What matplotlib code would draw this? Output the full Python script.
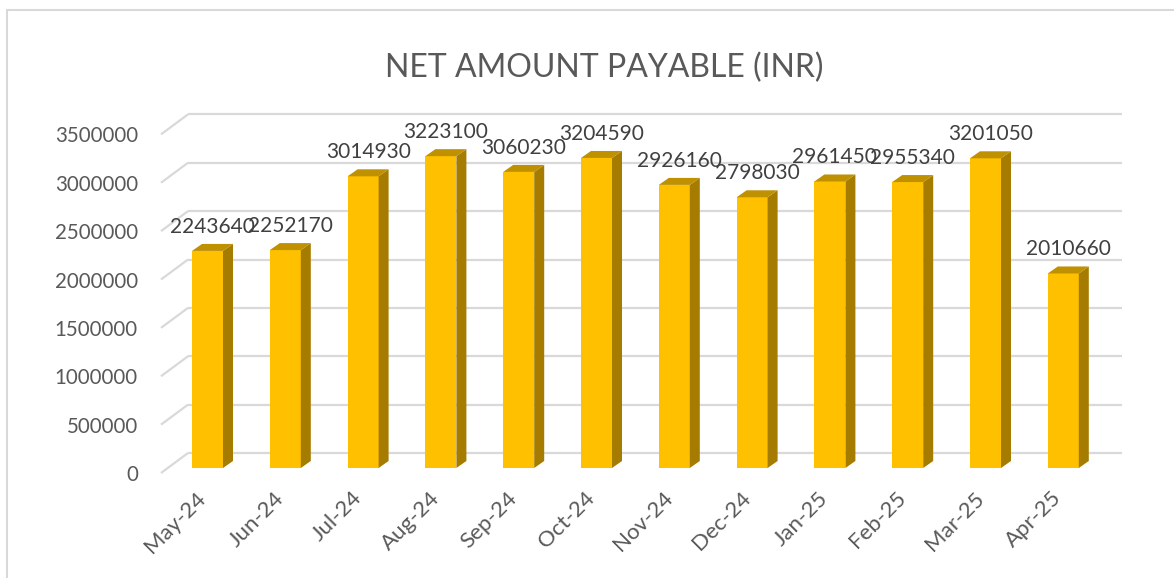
import matplotlib
matplotlib.use("Agg")
import matplotlib.pyplot as plt
from matplotlib.patches import Polygon, Rectangle

months = ["May-24", "Jun-24", "Jul-24", "Aug-24", "Sep-24", "Oct-24",
          "Nov-24", "Dec-24", "Jan-25", "Feb-25", "Mar-25", "Apr-25"]
amounts = [2243640, 2252170, 3014930, 3223100, 3060230, 3204590,
           2926160, 2798030, 2961450, 2955340, 3201050, 2010660]
yticks = [0, 500000, 1000000, 1500000, 2000000, 2500000, 3000000, 3500000]

plt.rcParams['font.family'] = ['Lato', 'DejaVu Sans']

W, H = 1174, 578
# pixel geometry of the excel-like 3d column chart
PX_CAT = 77.8        # px per category
X0 = 207.5           # px of first bar front centre
PX_VAL = 96.75e-6    # px per unit value
Y0 = 468             # px of value 0 at bar front plane
AX_L, AX_R, AX_T, AX_B = 140, 1140, 100, 495

fig = plt.figure(figsize=(W / 100, H / 100), dpi=100)
ax = fig.add_axes([AX_L / W, 1 - AX_B / H, (AX_R - AX_L) / W, (AX_B - AX_T) / H])
ax.set_xlim((AX_L - X0) / PX_CAT, (AX_R - X0) / PX_CAT)
ax.set_ylim((Y0 - AX_B) / PX_VAL, (Y0 - AX_T) / PX_VAL)
ax.axis('off')

bw = 31 / PX_CAT
dx = 10 / PX_CAT
dy = 7 / PX_VAL
# back wall offset and front-plane offset
wdx, wdy = 20 / PX_CAT, 15 / PX_VAL
fdx, fdy = -7 / PX_CAT, -5 / PX_VAL
left = (168 - X0) / PX_CAT
right = (1122 - X0) / PX_CAT

grid_col = '#d9d9d9'
for t in yticks:
    ax.plot([left + fdx, left + wdx], [t + fdy, t + wdy], color=grid_col, lw=1.6,
            solid_capstyle='butt', zorder=1)
    ax.plot([left + wdx, right], [t + wdy, t + wdy], color=grid_col, lw=1.6,
            solid_capstyle='butt', zorder=1)
    ax.text(-(X0 - 138) / PX_CAT, t - 7 / PX_VAL, str(t), ha='right', va='center',
            fontsize=14.8, color='#595959')

x = list(range(len(months)))
ax.bar(x, amounts, width=bw, color='#FFC000', zorder=3)
for i, v in zip(x, amounts):
    r = i + bw / 2
    l = i - bw / 2
    ax.add_patch(Polygon([(r, 0), (r + dx, dy), (r + dx, v + dy), (r, v)],
                         closed=True, facecolor='#A67C00', edgecolor='none', zorder=3))
    ax.add_patch(Polygon([(l, v), (r, v), (r + dx, v + dy), (l + dx, v + dy)],
                         closed=True, facecolor='#BF9000', edgecolor='none', zorder=3))
    ax.text(i + 5 / PX_CAT, v + dy + 11 / PX_VAL, str(v), ha='center', va='baseline',
            fontsize=15, color='#404040', zorder=4)
    ax.text(i - 0.06, -27 / PX_VAL, months[i], ha='right', va='center', rotation=45,
            rotation_mode='anchor', fontsize=16, color='#595959')

fig.text(604 / W, 1 - 68 / H, "NET AMOUNT PAYABLE (INR)", ha='center', va='center',
         fontsize=23, color='#595959')

fig.patches.append(Rectangle((7 / W, -0.1), 1.2, 1.1 - 10 / H, transform=fig.transFigure,
                             fill=False, edgecolor=grid_col, lw=1.5))

fig.savefig("out.png", dpi=100, facecolor='white')
